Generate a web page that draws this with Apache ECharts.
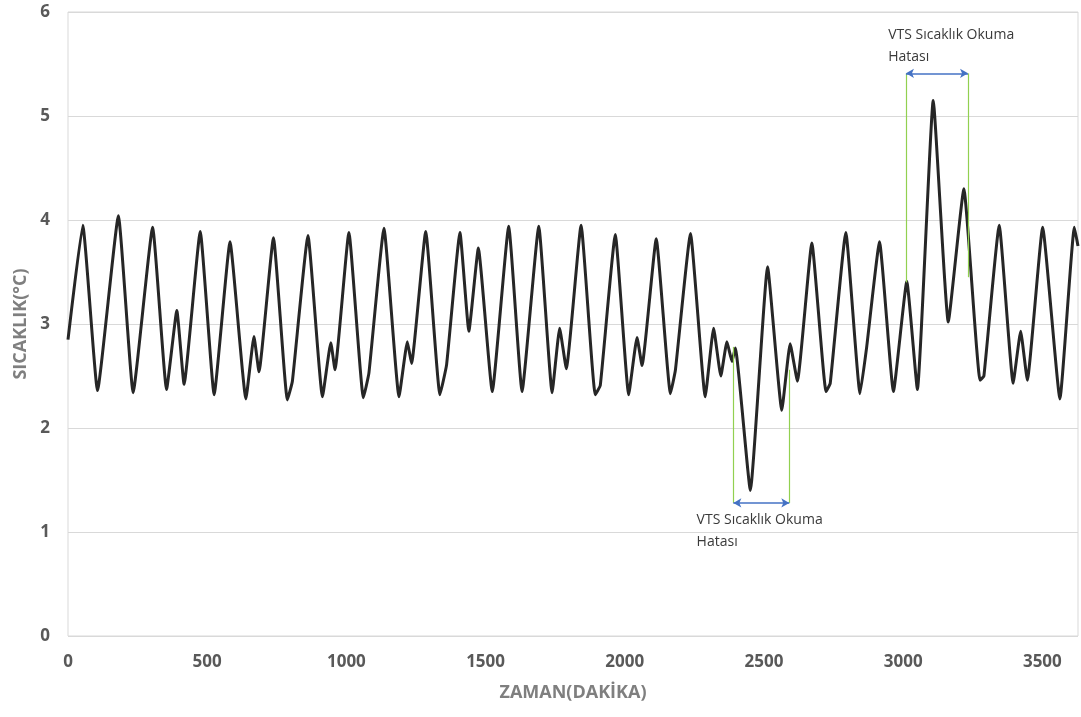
<!DOCTYPE html>
<html>
<head>
<meta charset="utf-8">
<script src="https://cdn.jsdelivr.net/npm/echarts@6/dist/echarts.min.js"></script>
<style>
  html, body { margin: 0; padding: 0; background: #fff; }
  #chart { width: 1081px; height: 717px; }
</style>
</head>
<body>
<div id="chart"></div>
<script>
// time in minutes at peaks, troughs and kinks
const timeMin = [
  0, 53, 106, 181, 234, 304, 354, 391, 417, 475, 525, 582, 639, 668, 686, 738, 788, 806,
  862, 914, 944, 959, 1009, 1061, 1081, 1135, 1189, 1219, 1234, 1285, 1336, 1360, 1408,
  1440, 1474, 1524, 1583, 1631, 1691, 1739, 1766, 1790, 1843, 1894, 1912, 1966, 2014,
  2044, 2062, 2113, 2164, 2182, 2236, 2289, 2319, 2345, 2367, 2385, 2397, 2451, 2513,
  2564, 2594, 2620, 2672, 2723, 2738, 2794, 2845, 2869, 2915, 2965, 3013, 3051, 3108,
  3162, 3218, 3276, 3290, 3345, 3395, 3422, 3446, 3501, 3563, 3615, 3628
];
const tempC = [
  2.85, 3.95, 2.36, 4.04, 2.34, 3.93, 2.37, 3.13, 2.42, 3.89, 2.32, 3.79, 2.28, 2.88, 2.54, 3.83, 2.27, 2.45,
  3.85, 2.30, 2.82, 2.56, 3.88, 2.29, 2.53, 3.92, 2.30, 2.83, 2.62, 3.89, 2.32, 2.61, 3.88,
  2.93, 3.73, 2.35, 3.94, 2.35, 3.94, 2.34, 2.96, 2.57, 3.95, 2.32, 2.41, 3.86, 2.32,
  2.87, 2.60, 3.82, 2.33, 2.56, 3.87, 2.30, 2.96, 2.50, 2.83, 2.64, 2.77, 1.40, 3.55,
  2.17, 2.81, 2.45, 3.78, 2.35, 2.43, 3.88, 2.33, 2.78, 3.79, 2.35, 3.41, 2.37, 5.15,
  3.02, 4.30, 2.46, 2.50, 3.95, 2.43, 2.93, 2.46, 3.93, 2.28, 3.93, 3.75
];

// two "reading error" windows: [start, end], arrow height, tops of the green guides
const errorStart = [2390, 3010];
const errorEnd = [2591, 3233];
const arrowY = [1.28, 5.41];
const guideTopStart = [2.78, 3.40];
const guideTopEnd = [2.56, 3.45];
const noteX = [2258, 2946];
const noteY = [1.22, 5.88];
const noteText = 'VTS Sıcaklık Okuma\nHatası';

const font = '"Open Sans", "Noto Sans", sans-serif';

const guideLines = [];
const arrows = [];
const notes = [];
for (let i = 0; i < errorStart.length; i++) {
  guideLines.push([{ coord: [errorStart[i], guideTopStart[i]] }, { coord: [errorStart[i], arrowY[i]] }]);
  guideLines.push([{ coord: [errorEnd[i], guideTopEnd[i]] }, { coord: [errorEnd[i], arrowY[i]] }]);
  arrows.push([{ coord: [errorStart[i], arrowY[i]] }, { coord: [errorEnd[i], arrowY[i]] }]);
  notes.push({ coord: [noteX[i], noteY[i]] });
}

const chart = echarts.init(document.getElementById('chart'));
chart.setOption({
  animation: false,
  backgroundColor: '#fff',
  grid: {
    left: 68, right: 3, top: 12, bottom: 81,
    show: true, borderColor: '#d9d9d9', borderWidth: 1
  },
  xAxis: {
    type: 'value',
    min: 0, max: 3628, interval: 500,
    name: 'ZAMAN(DAKİKA)',
    nameLocation: 'middle',
    nameGap: 48,
    nameTextStyle: { color: '#7f7f7f', fontSize: 18, fontWeight: 'bold', fontFamily: font },
    axisLine: { show: false },
    axisTick: { show: false },
    splitLine: { show: false },
    axisLabel: {
      color: '#595959', fontSize: 17, fontWeight: 'bold', fontFamily: font, margin: 18,
      showMaxLabel: false, formatter: (v) => String(v)
    }
  },
  yAxis: {
    type: 'value',
    min: 0, max: 6, interval: 1,
    name: 'SICAKLIK(°C)',
    nameLocation: 'middle',
    nameGap: 36,
    nameTextStyle: { color: '#7f7f7f', fontSize: 18, fontWeight: 'bold', fontFamily: font },
    axisLine: { show: false },
    axisTick: { show: false },
    splitLine: { lineStyle: { color: '#d9d9d9', width: 1 } },
    axisLabel: { color: '#595959', fontSize: 17, fontWeight: 'bold', fontFamily: font, margin: 18 }
  },
  series: [
    {
      type: 'line',
      data: timeMin.map((t, i) => [t, tempC[i]]),
      showSymbol: false,
      smooth: 0.12,
      lineStyle: { color: '#262626', width: 3 },
      z: 3
    },
    {
      type: 'line',
      data: [],
      markLine: {
        silent: true,
        symbol: 'none',
        label: { show: false },
        lineStyle: { color: '#92d050', width: 1.2, type: 'solid' },
        data: guideLines
      },
      z: 2
    },
    {
      type: 'line',
      data: [],
      markLine: {
        silent: true,
        symbol: ['arrow', 'arrow'],
        symbolSize: [7, 8],
        label: { show: false },
        lineStyle: { color: '#4472c4', width: 1.6, type: 'solid' },
        data: arrows
      },
      markPoint: {
        silent: true,
        symbol: 'circle',
        symbolSize: 0,
        label: {
          show: true,
          position: [0, 0],
          formatter: noteText,
          color: '#3a3a3a',
          fontSize: 14,
          lineHeight: 22,
          fontFamily: font
        },
        data: notes
      },
      z: 4
    }
  ]
});
</script>
</body>
</html>
